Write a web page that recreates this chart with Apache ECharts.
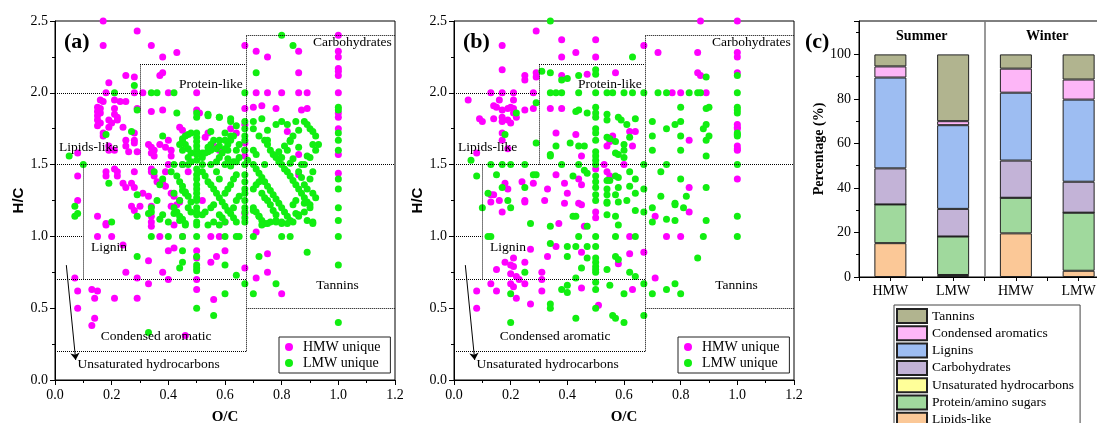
<!DOCTYPE html>
<html>
<head>
<meta charset="utf-8">
<script src="https://cdn.jsdelivr.net/npm/echarts/dist/echarts.min.js"></script>
<style>
  html, body { margin: 0; padding: 0; background: #fff; }
  #main { width: 1097px; height: 423px; }
</style>
</head>
<body>
<div id="main"></div>
<script>
// ---- data: panel (a) ----
var aHMW = [
  [0.17,2.5],[0.29,2.43],[0.17,2.33],[0.34,2.33],[0.38,2.25],[0.43,2.28],[0.25,2.12],[0.28,2.11],[0.37,2.12],[0.38,2.14],[0.19,2.07],[0.67,2.33],
  [0.18,2.0],[0.28,2.0],[0.31,2.0],[0.4,2.0],[0.5,2.0],
  [0.16,1.95],[0.17,1.94],[0.21,1.95],[0.23,1.94],[0.25,1.94],
  [0.15,1.9],[0.16,1.89],[0.15,1.87],[0.16,1.86],[0.15,1.84],[0.15,1.81],[0.16,1.79],[0.15,1.77],
  [0.21,1.89],[0.21,1.85],[0.22,1.83],[0.22,1.81],[0.19,1.81],[0.2,1.79],[0.19,1.76],
  [0.29,1.89],[0.34,1.87],[0.38,1.88],[0.5,1.88],[0.51,1.86],
  [0.24,1.76],[0.17,1.72],[0.17,1.7],[0.28,1.72],[0.28,1.67],[0.28,1.65],[0.29,1.59],
  [0.25,1.67],[0.25,1.63],[0.26,1.59],[0.19,1.63],[0.19,1.6],[0.21,1.6],
  [0.33,1.64],[0.34,1.62],[0.35,1.6],[0.37,1.64],[0.39,1.62],[0.41,1.6],[0.41,1.56],[0.34,1.58],[0.35,1.56],
  [0.44,1.76],[0.45,1.74],[0.4,1.67],[0.54,1.72],[0.53,1.69],[0.56,1.63],[0.58,1.6],
  [0.08,1.58],[0.08,1.42],[0.08,1.25],
  [0.18,1.45],[0.18,1.42],[0.21,1.47],[0.22,1.45],[0.22,1.42],[0.24,1.37],[0.25,1.34],[0.27,1.37],[0.28,1.34],[0.28,1.45],
  [0.34,1.47],[0.34,1.45],[0.35,1.42],[0.36,1.38],[0.38,1.37],[0.39,1.35],[0.41,1.3],[0.42,1.28],[0.44,1.25],[0.31,1.3],[0.33,1.28],[0.39,1.45],[0.4,1.5],[0.45,1.5],[0.47,1.45],
  [0.71,2.29],[0.75,2.25],[0.86,2.29],[0.86,2.14],[0.71,2.0],[0.75,2.0],[0.8,2.0],[0.86,2.0],[0.89,2.0],
  [1.0,2.4],[1.0,2.29],[1.0,2.25],[1.0,2.17],[1.0,2.15],[1.0,2.12],[1.0,2.0],
  [0.7,1.9],[0.73,1.91],[0.78,1.89],[0.87,1.88],[0.89,1.89],[0.67,1.89],[0.67,1.78],[0.82,1.73],[0.62,1.75],[0.64,1.72],
  [0.86,1.57],[0.86,1.43],[1.0,1.44],[0.67,1.56],[1.0,1.86],[1.0,1.83],[1.0,1.75],[1.0,1.57],[0.67,1.6],[0.67,1.65],
  [0.15,1.14],[0.18,1.08],[0.18,1.09],[0.15,1.0],[0.2,1.0],[0.24,0.94],[0.27,1.21],[0.28,1.18],[0.3,1.21],
  [0.34,1.21],[0.34,1.14],[0.34,1.1],[0.34,1.07],[0.37,1.0],[0.42,1.08],[0.41,1.21],[0.43,1.22],[0.44,1.24],
  [0.4,0.9],[0.42,0.92],[0.45,1.0],[0.5,0.9],[0.5,0.85],[0.55,1.0],[0.58,1.0],[0.55,0.82],[0.57,0.86],[0.6,0.9],
  [0.67,0.78],[0.67,1.16],[0.71,1.03],[0.75,0.88],[0.71,0.71],[0.75,0.75],[0.8,0.6],[0.5,0.7],[0.4,0.7],
  [0.25,0.75],[0.29,0.71],[0.33,0.67],[0.38,0.75],[0.33,0.83],[0.07,0.71],[0.08,0.62],[0.13,0.63],[0.14,0.57],[0.15,0.62],
  [0.21,0.57],[0.29,0.57],[0.08,0.5],[0.14,0.43],[0.13,0.38],[0.5,0.63],[0.56,0.56],[0.46,0.31],[0.6,1.1],[0.52,1.25]
];
var aLMW = [
  [0.8,2.4],[0.84,2.33],[0.71,2.14],[0.28,2.05],
  [0.21,2.0],[0.34,2.0],[0.36,2.0],[0.42,2.0],[0.67,2.0],
  [0.29,1.88],[0.43,1.86],[0.5,1.86],[0.5,1.83],[0.54,1.85],[0.58,1.83],[0.18,1.71],[0.27,1.73],[0.38,1.7],[0.45,1.68],[0.47,1.71],[0.48,1.72],
  [0.45,1.66],[0.46,1.64],[0.47,1.61],[0.48,1.58],[0.52,1.58],[0.54,1.59],[0.55,1.6],[0.57,1.61],[0.58,1.63],
  [0.05,1.56],[0.1,1.5],[0.19,1.37],[0.29,1.29],[0.37,1.36],[0.45,1.32],[0.46,1.3],[0.45,1.5],
  [0.41,1.45],[0.43,1.42],[0.44,1.38],[0.45,1.35],[0.46,1.31],[0.47,1.28],[0.48,1.24],[0.42,1.2],[0.43,1.17],[0.44,1.14],[0.45,1.12],[0.46,1.09],[0.47,1.2],[0.48,1.17],
  [0.52,1.45],[0.53,1.42],[0.54,1.38],[0.55,1.36],[0.56,1.33],[0.57,1.3],[0.58,1.27],[0.59,1.24],[0.6,1.21],[0.61,1.18],[0.62,1.16],[0.63,1.13],[0.64,1.1],
  [0.52,1.15],[0.53,1.17],[0.55,1.2],[0.56,1.22],[0.58,1.15],[0.59,1.13],[0.6,1.1],[0.6,1.3],[0.61,1.33],[0.62,1.36],[0.63,1.4],[0.64,1.43],[0.58,1.4],[0.57,1.45],
  [0.55,1.5],[0.6,1.5],[0.62,1.5],[0.56,1.1],[0.54,1.08],[0.64,1.25],[0.65,1.28],[0.63,1.2],[0.44,1.25],[0.42,1.3],[0.4,1.1],[0.4,1.0],[0.45,1.0],[0.6,1.0],[0.65,1.0],
  [0.34,1.0],[0.34,1.17],[0.34,1.2],[0.36,1.25],[0.38,1.15],[0.37,1.12],[0.35,1.45],[0.38,1.4],[0.42,1.5],[0.47,1.5],[0.52,1.5],
  [0.52,1.55],[0.53,1.58],[0.54,1.62],[0.55,1.64],[0.56,1.67],[0.57,1.52],[0.58,1.55],[0.59,1.58],[0.6,1.61],[0.61,1.64],[0.62,1.67],[0.63,1.7],[0.64,1.6],[0.65,1.55],[0.63,1.52],
  [0.47,1.55],[0.45,1.6],[0.44,1.64],[0.46,1.7],[0.48,1.52],[0.6,1.72],[0.58,1.67],[0.55,1.73],[0.62,1.8],[0.64,1.77],[0.58,1.83],[0.54,1.84],
  [0.7,1.75],[0.72,1.7],[0.74,1.67],[0.75,1.64],[0.76,1.6],[0.77,1.57],[0.78,1.55],[0.79,1.52],[0.8,1.5],[0.81,1.47],[0.82,1.45],[0.83,1.42],[0.84,1.39],[0.85,1.36],[0.86,1.33],[0.87,1.3],[0.88,1.27],[0.89,1.24],[0.9,1.22],
  [0.7,1.5],[0.71,1.47],[0.72,1.44],[0.73,1.41],[0.74,1.38],[0.75,1.35],[0.76,1.32],[0.77,1.29],[0.78,1.26],[0.79,1.23],[0.8,1.2],[0.81,1.17],[0.82,1.14],[0.83,1.11],
  [0.7,1.33],[0.71,1.36],[0.72,1.38],[0.73,1.3],[0.74,1.27],[0.75,1.25],[0.76,1.22],[0.77,1.18],[0.78,1.15],[0.7,1.2],[0.71,1.17],[0.72,1.14],[0.73,1.11],[0.74,1.09],
  [0.76,1.1],[0.78,1.1],[0.8,1.09],[0.84,1.1],[0.86,1.15],[0.88,1.17],[0.9,1.2],[0.91,1.1],[0.86,1.45],[0.88,1.5],[0.9,1.55],[0.92,1.6],[0.93,1.64],[0.92,1.7],[0.9,1.75],
  [0.88,1.8],[0.85,1.8],[0.82,1.78],[0.8,1.55],[0.82,1.6],[0.83,1.67],[0.84,1.7],[0.86,1.62],[0.87,1.41],[0.88,1.36],[0.89,1.33],[0.91,1.3],[0.92,1.27],[0.85,1.25],[0.84,1.22],
  [0.7,1.0],[0.8,1.0],[0.83,1.0],[0.89,0.89],[0.72,0.86],[0.78,0.67],[0.7,0.6],[0.6,0.6],[0.64,0.73],[0.67,0.67],[0.6,0.8],[0.5,0.5],[0.56,0.45],[0.33,0.33],
  [0.44,0.78],[0.45,0.9],[0.5,0.86],[0.5,0.8],[0.5,0.78],[0.5,0.76],
  [0.67,1.8],[0.67,1.75],[0.67,1.7],[0.67,1.67],[0.67,1.6],[0.67,1.5],[0.67,1.43],[0.67,1.38],[0.67,1.33],[0.67,1.3],[0.67,1.25],[0.67,1.2],[0.67,1.17],[0.67,1.13],[0.67,1.1],
  [0.5,1.72],[0.5,1.69],[0.5,1.66],[0.5,1.63],[0.5,1.6],[0.5,1.57],[0.5,1.53],[0.5,1.47],[0.5,1.43],[0.5,1.4],[0.5,1.36],[0.5,1.33],[0.5,1.3],[0.5,1.27],[0.5,1.25],[0.5,1.2],[0.5,1.17],[0.5,1.15],[0.5,1.1],[0.5,1.08],[0.5,1.0],
  [1.0,1.9],[1.0,1.88],[1.0,1.72],[1.0,1.67],[1.0,1.6],[1.0,1.4],[1.0,1.33],[1.0,1.2],[1.0,1.11],[1.0,1.0],[1.0,0.8],[1.0,0.4],
  [0.07,1.21],[0.08,1.16],[0.07,1.14],[0.2,1.1],[0.29,1.14],[0.29,0.86],[0.33,1.16],[0.42,1.16],[0.44,1.11],[0.46,1.08],[0.58,1.08],[0.64,1.0],[0.45,0.82],
  [0.7,1.18],[0.72,1.14],[0.73,1.08],[0.75,1.09],[0.78,1.11],[0.8,1.1],[0.82,1.09],[0.85,1.16],[0.86,1.14],[0.88,1.23],[0.89,1.11],[0.91,1.09],
  [0.8,1.8],[0.89,1.78],[0.62,1.82],[0.7,1.8],[0.73,1.82],[0.75,1.74],[0.78,1.78],[0.83,1.66],[0.86,1.74],[0.91,1.73],[0.91,1.64],[0.89,1.56],
  [0.7,1.6],[0.71,1.57],[0.75,1.67],[0.81,1.63],[0.79,1.59],[0.84,1.54],[0.87,1.5],[0.91,1.45],[0.9,1.4],[0.83,1.51],[0.74,1.5],
  [0.62,1.49],[0.64,1.52],[0.68,1.53],[0.61,1.54],[0.65,1.64],[0.61,1.6],[0.6,1.67],[0.62,1.7]
];
// ---- data: panel (b) ----
var bHMW = [
  [0.29,2.43],[0.38,2.37],[0.5,2.37],[0.17,2.33],[0.43,2.28],[0.38,2.25],[0.5,2.25],[0.17,2.16],[0.25,2.12],[0.25,2.09],[0.29,2.14],[0.29,2.11],[0.38,2.12],[0.47,2.13],[0.57,2.14],
  [0.13,2.0],[0.17,2.0],[0.21,2.0],[0.28,2.0],[0.05,1.95],[0.16,1.95],[0.21,1.95],[0.14,1.91],[0.15,1.9],[0.17,1.88],[0.19,1.89],[0.2,1.9],[0.21,1.89],[0.25,1.88],[0.28,1.89],
  [0.09,1.82],[0.1,1.8],[0.14,1.82],[0.17,1.83],[0.17,1.8],[0.19,1.81],[0.2,1.79],[0.21,1.86],[0.22,1.83],[0.17,1.72],[0.17,1.67],[0.08,1.58],[0.19,1.61],
  [0.34,1.89],[0.38,1.89],[0.36,1.72],[0.43,1.71],[0.45,1.56],[0.54,1.63],[0.56,1.7],[0.55,1.66],[0.5,1.47],[0.36,1.43],[0.39,1.37],[0.44,1.4],
  [0.18,1.37],[0.24,1.38],[0.28,1.37],[0.13,1.29],[0.14,1.29],[0.4,1.3],[0.45,1.36],[0.44,1.23],[0.39,1.23],[0.32,1.25],[0.25,1.25],[0.16,1.25],[0.13,1.24],
  [0.55,1.42],[0.54,1.45],[0.62,1.73],[0.53,1.5],
  [0.87,2.5],[1.0,2.5],[0.67,2.33],[0.72,2.28],[0.86,2.28],[0.86,2.14],[0.87,2.12],[1.0,2.28],[1.0,2.25],[1.0,2.14],[0.77,2.0],[0.8,2.0],[0.89,2.0],
  [0.64,1.73],[0.63,1.63],[0.83,1.67],[1.0,1.78],[1.0,1.75],[1.0,1.76],[1.0,1.63],[1.0,1.61],[1.0,1.6],[0.6,1.5],[1.0,1.4],[0.83,1.34],
  [0.17,1.17],[0.37,1.09],[0.46,1.07],[0.5,1.17],[0.5,1.13],[0.36,0.93],[0.27,0.91],[0.33,0.86],[0.45,0.89],[0.21,0.85],[0.18,0.82],[0.2,0.8],[0.21,0.79],[0.25,0.82],
  [0.15,0.77],[0.2,0.74],[0.22,0.72],[0.23,0.7],[0.31,0.75],[0.31,0.7],[0.25,0.67],[0.21,0.65],[0.2,0.67],[0.15,0.62],[0.13,0.67],[0.22,0.57],[0.27,0.53],[0.31,0.62],
  [0.45,0.64],[0.51,0.52],[0.08,0.62],[0.08,0.5],[0.62,1.0],[0.62,0.88],[0.67,0.89],[0.58,0.81],[0.71,1.14],[0.75,1.0],[0.8,1.0],[0.83,1.17],[0.71,0.71],[0.63,0.63],
  [0.45,1.22],[0.25,1.24],[0.33,1.33],[0.19,1.33]
];
var bLMW = [
  [0.34,2.5],[0.31,2.15],[0.34,2.14],[0.29,1.93],[0.22,1.86],[0.18,1.71],[0.29,1.65],[0.06,1.53],[0.08,1.42],[0.12,1.3],[0.15,1.43],[0.17,1.34],[0.19,1.25],[0.25,1.34],[0.29,1.43],[0.34,1.57],
  [0.13,1.5],[0.17,1.5],[0.2,1.5],[0.25,1.5],[0.38,1.5],[0.44,1.5],[0.5,1.5],
  [0.34,2.0],[0.36,2.0],[0.38,2.0],[0.44,2.0],[0.5,2.0],[0.54,2.0],[0.56,2.0],[0.38,2.09],[0.4,2.1],[0.44,2.12],[0.5,2.16],[0.5,2.13],
  [0.43,1.87],[0.44,1.88],[0.47,1.86],[0.5,1.9],[0.5,1.86],[0.5,1.83],[0.54,1.85],[0.54,1.81],[0.58,1.83],[0.5,1.75],[0.5,1.72],[0.5,1.67],[0.54,1.69],[0.55,1.68],[0.57,1.66],
  [0.41,1.65],[0.44,1.63],[0.46,1.63],[0.36,1.63],[0.34,1.56],[0.5,1.59],[0.5,1.56],[0.5,1.53],[0.57,1.58],[0.58,1.57],[0.42,1.42],[0.46,1.46],[0.47,1.44],
  [0.5,1.42],[0.5,1.38],[0.5,1.34],[0.5,1.29],[0.5,1.25],[0.54,1.39],[0.55,1.39],[0.57,1.42],[0.58,1.41],[0.54,1.33],[0.58,1.34],[0.54,1.29],[0.57,1.29],[0.54,1.24],[0.58,1.24],[0.28,1.43],
  [0.63,2.25],[0.89,2.11],[1.0,2.12],[0.6,2.0],[0.63,2.0],[0.67,2.0],[0.72,2.0],[0.75,2.0],[0.83,2.0],[0.86,2.0],[0.87,2.0],[1.0,2.0],
  [0.8,1.9],[0.89,1.89],[0.9,1.9],[1.0,1.9],[1.0,1.88],[1.0,1.86],[0.7,1.8],[0.75,1.75],[0.78,1.78],[0.8,1.8],[0.88,1.75],[0.89,1.78],[0.9,1.7],[1.0,1.72],[1.0,1.71],[1.0,1.7],
  [0.7,1.7],[0.8,1.7],[0.8,1.6],[0.7,1.6],[0.89,1.67],[0.89,1.56],[1.0,1.5],[0.75,1.5],[0.67,1.5],[0.73,1.45],[0.8,1.4],[0.89,1.34],[0.73,1.28],[0.78,1.23],[0.82,1.28],
  [0.59,1.81],[0.61,1.78],[0.64,1.82],[0.6,1.64],[0.62,1.69],[0.6,1.6],[0.6,1.55],[0.62,1.45],[0.64,1.4],[0.62,1.35],[0.64,1.3],[0.61,1.25],[0.67,1.33],[0.67,1.17],
  [0.1,1.2],[0.2,1.2],[0.13,1.0],[0.27,1.09],[0.34,1.07],[0.42,1.14],[0.43,1.14],[0.47,1.07],[0.54,1.23],[0.54,1.15],[0.57,1.14],[0.58,1.08],[0.64,1.18],
  [0.7,1.2],[0.7,1.1],[0.75,1.12],[0.78,1.11],[0.78,1.22],[0.81,1.2],[0.89,1.11],[1.0,1.14],[1.0,1.0],[0.88,1.0],[0.44,1.0],[0.5,1.0],[0.57,1.0],[0.64,1.0],
  [0.34,0.95],[0.4,0.93],[0.43,0.93],[0.47,0.93],[0.5,0.93],[0.4,0.86],[0.47,0.85],[0.5,0.85],[0.5,0.82],[0.5,0.79],[0.5,0.77],[0.5,0.75],[0.57,0.86],[0.58,0.84],
  [0.45,0.78],[0.54,0.77],[0.62,0.75],[0.64,0.72],[0.25,0.75],[0.43,0.71],[0.4,0.66],[0.4,0.61],[0.5,0.68],[0.5,0.63],[0.38,0.63],[0.55,0.66],[0.6,0.6],[0.67,0.67],
  [0.7,0.6],[0.75,0.63],[0.78,0.67],[0.8,0.6],[0.86,0.85],[0.34,0.53],[0.34,0.5],[0.5,0.5],[0.43,0.43],[0.56,0.45],[0.57,0.43],[0.6,0.4],[0.67,0.45],[0.2,0.4],[0.2,0.6],[0.12,1.0]
];
// ---- data: panel (c), percentages ----
var groups = ['HMW', 'LMW', 'HMW', 'LMW'];
var seasons = ['Summer', 'Winter'];
var lipids = [15.2, 0.9, 19.6, 2.8];
var protein = [17.4, 17.3, 16.0, 26.1];
var unsat = [0, 0, 0, 0];
var carbs = [16.2, 12.4, 16.7, 13.9];
var lignins = [40.8, 37.6, 30.5, 36.9];
var condensed = [5.0, 1.8, 10.8, 9.0];
var tannins = [5.4, 30.0, 6.4, 11.3];

// van Krevelen region boundaries [x1,y1,x2,y2]
var regionLines = [
  [0, 2.0, 0.3, 2.0], [0, 1.5, 1.2, 1.5], [0.3, 1.5, 0.3, 2.2], [0.3, 2.2, 0.675, 2.2],
  [0.675, 0.2, 0.675, 2.4], [0.675, 2.4, 1.2, 2.4], [0.675, 0.5, 1.2, 0.5],
  [0.1, 0.7, 0.1, 1.5], [0, 1.0, 0.1, 1.0], [0, 0.7, 0.675, 0.7], [0, 0.2, 0.675, 0.2]
];
var regionText = [
  ['Carbohydrates', 1.19, 2.35, 'left'], ['Protein-like', 0.55, 2.06, 'inside'],
  ['Lipids-like', 0.012, 1.62, 'right'], ['Lignin', 0.125, 0.92, 'right'],
  ['Tannins', 0.92, 0.655, 'right'], ['Condensed aromatic', 0.16, 0.3, 'right'],
  ['Unsaturated hydrocarbons', 0.078, 0.11, 'right']
];

var SERIF = 'Liberation Serif';
var MAG = '#ff00ff', GRN = '#11ee11';

function vkAxisX(i) {
  return {
    type: 'value', gridIndex: i, min: 0, max: 1.2, interval: 0.2,
    name: 'O/C', nameLocation: 'middle', nameGap: 30,
    nameTextStyle: { fontFamily: SERIF, fontWeight: 'bold', fontSize: 15, color: '#000' },
    axisLine: { onZero: false, lineStyle: { color: '#000' } },
    axisTick: { length: 5, lineStyle: { color: '#000' } },
    minorTick: { show: true, splitNumber: 2, length: 3, lineStyle: { color: '#000' } },
    splitLine: { show: false },
    axisLabel: { formatter: function (v) { return v.toFixed(1); }, fontFamily: SERIF, fontSize: 14, color: '#000', margin: 8 }
  };
}
function vkAxisY(i) {
  return {
    type: 'value', gridIndex: i, min: 0, max: 2.5, interval: 0.5,
    name: 'H/C', nameLocation: 'middle', nameGap: 27,
    nameTextStyle: { fontFamily: 'Liberation Sans', fontWeight: 'bold', fontSize: 15, color: '#000' },
    axisLine: { onZero: false, lineStyle: { color: '#000' } },
    axisTick: { length: 5, lineStyle: { color: '#000' } },
    minorTick: { show: true, splitNumber: 2, length: 3, lineStyle: { color: '#000' } },
    splitLine: { show: false },
    axisLabel: { formatter: function (v) { return v.toFixed(1); }, fontFamily: SERIF, fontSize: 14, color: '#000', margin: 7 }
  };
}
function vkSeries(i, hmw, lmw) {
  var lines = regionLines.map(function (s) {
    return [{ coord: [s[0], s[1]] }, { coord: [s[2], s[3]] }];
  });
  lines.push([{ coord: [0.04, 0.8], symbol: 'none' }, { coord: [0.073, 0.14], symbol: 'arrow', symbolSize: 7,
    lineStyle: { type: 'solid', width: 1 } }]);
  return [
    { name: 'HMW unique', type: 'scatter', xAxisIndex: i, yAxisIndex: i, data: hmw,
      symbolSize: 7, itemStyle: { color: MAG, opacity: 1 }, z: 3,
      markLine: { silent: true, symbol: 'none', animation: false, label: { show: false },
        lineStyle: { color: '#000', type: 'dotted', width: 1 }, data: lines } },
    { name: 'LMW unique', type: 'scatter', xAxisIndex: i, yAxisIndex: i, data: lmw,
      symbolSize: 7, itemStyle: { color: GRN, opacity: 1 }, z: 3 },
    { name: 'regions', type: 'scatter', xAxisIndex: i, yAxisIndex: i, silent: true, symbolSize: 1,
      itemStyle: { color: 'rgba(0,0,0,0)', opacity: 1 }, z: 4,
      data: regionText.map(function (t) {
        return { value: [t[1], t[2]], label: { show: true, formatter: t[0], position: t[3], distance: 0,
          fontFamily: SERIF, fontSize: 13.5, color: '#000', opacity: 1 } };
      }) }
  ];
}

var barColors = {
  'Lipids-like': '#fbc897', 'Protein/amino sugars': '#a0d99d', 'Unsaturated hydrocarbons': '#ffff99',
  'Carbohydrates': '#c3b3d7', 'Lignins': '#9dbdf2', 'Condensed aromatics': '#fdb6f7', 'Tannins': '#b1b48f'
};
var barData = [
  ['Lipids-like', lipids], ['Protein/amino sugars', protein], ['Unsaturated hydrocarbons', unsat],
  ['Carbohydrates', carbs], ['Lignins', lignins], ['Condensed aromatics', condensed], ['Tannins', tannins]
];
var barSeries = barData.map(function (b) {
  return { name: b[0], type: 'bar', stack: 'pct', xAxisIndex: 2, yAxisIndex: 2, barWidth: 32, data: b[1],
    itemStyle: { color: barColors[b[0]], borderColor: '#222', borderWidth: 1 } };
});

var legendCommon = {
  orient: 'vertical', itemWidth: 18, itemHeight: 8, itemGap: 2, icon: 'circle',
  backgroundColor: '#fff', borderColor: '#222', borderWidth: 1, padding: [3, 10, 3, 6],
  textStyle: { fontFamily: SERIF, fontSize: 14, color: '#000' },
  data: ['HMW unique', 'LMW unique'], selectedMode: false
};

var chart = echarts.init(document.getElementById('main'));
chart.setOption({
  animation: false,
  backgroundColor: '#fff',
  grid: [
    { left: 55, top: 21, width: 340, height: 359, show: true, borderColor: '#000', borderWidth: 1, outerBoundsMode: 'none', containLabel: false },
    { left: 454, top: 21, width: 340, height: 359, show: true, borderColor: '#000', borderWidth: 1, outerBoundsMode: 'none', containLabel: false },
    { left: 859, top: 21, width: 251, height: 256, show: true, borderColor: '#000', borderWidth: 1, outerBoundsMode: 'none', containLabel: false }
  ],
  xAxis: [
    vkAxisX(0), vkAxisX(1),
    { type: 'category', gridIndex: 2, data: groups,
      axisLine: { lineStyle: { color: '#000' } }, axisTick: { show: false },
      axisLabel: { fontFamily: SERIF, fontSize: 14, color: '#000', margin: 7 } },
    { type: 'value', gridIndex: 2, min: 0, max: 4, interval: 0.5, position: 'bottom',
      axisLine: { show: false }, axisLabel: { show: false }, splitLine: { show: false },
      axisTick: { length: 4, lineStyle: { color: '#000' } } }
  ],
  yAxis: [
    vkAxisY(0), vkAxisY(1),
    { type: 'value', gridIndex: 2, min: 0, max: 115, interval: 20,
      name: 'Percentage (%)', nameLocation: 'middle', nameGap: 32,
      nameTextStyle: { fontFamily: SERIF, fontWeight: 'bold', fontSize: 14, color: '#000' },
      axisLine: { lineStyle: { color: '#000' } },
      axisTick: { length: 5, lineStyle: { color: '#000' } },
      minorTick: { show: true, splitNumber: 2, length: 3, lineStyle: { color: '#000' } },
      splitLine: { show: false },
      axisLabel: { formatter: function (v) { return v > 100 ? '' : v; }, fontFamily: SERIF, fontSize: 14, color: '#000' } }
  ],
  legend: [
    Object.assign({}, legendCommon, { left: 279, top: 337 }),
    Object.assign({}, legendCommon, { left: 678, top: 337 }),
    { orient: 'vertical', left: 894, top: 305, height: 300, itemWidth: 30, itemHeight: 14, itemGap: 1.3, icon: 'rect',
      borderColor: '#444', borderWidth: 1, padding: [3, 6, 3, 2], selectedMode: false,
      textStyle: { fontFamily: SERIF, fontSize: 13.5, color: '#000' },
      data: barData.map(function (b) { return b[0]; }).reverse() }
  ],
  graphic: [
    { type: 'text', left: 64, top: 31, style: { text: '(a)', font: 'bold 22px "Liberation Serif"', fill: '#000' } },
    { type: 'text', left: 463, top: 31, style: { text: '(b)', font: 'bold 22px "Liberation Serif"', fill: '#000' } },
    { type: 'text', left: 805, top: 31, style: { text: '(c)', font: 'bold 22px "Liberation Serif"', fill: '#000' } }
  ],
  series: vkSeries(0, aHMW, aLMW).concat(vkSeries(1, bHMW, bLMW)).concat(barSeries).concat([
    { name: 'seasons', type: 'scatter', xAxisIndex: 3, yAxisIndex: 2, silent: true, symbolSize: 1,
      itemStyle: { color: 'rgba(0,0,0,0)', opacity: 1 },
      data: seasons.map(function (s, k) {
        return { value: [1 + 2 * k, 108], label: { show: true, formatter: s, position: 'inside',
          fontFamily: SERIF, fontWeight: 'bold', fontSize: 14, color: '#000' } };
      }),
      markLine: { silent: true, symbol: 'none', label: { show: false },
        lineStyle: { color: '#777', type: 'solid', width: 1.5 }, data: [{ xAxis: 2 }] } }
  ])
});
</script>
</body>
</html>
